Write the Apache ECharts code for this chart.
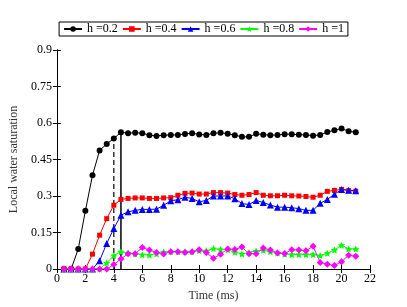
<!DOCTYPE html>
<html><head><meta charset="utf-8">
<script src="https://cdn.jsdelivr.net/npm/echarts@6/dist/echarts.min.js"></script>
<style>html,body{margin:0;padding:0;background:#fff}#c{width:407px;height:307px}</style>
</head><body><div id="c"></div>
<script>
var times = [0.5,1,1.5,2,2.5,3,3.5,4,4.5,5,5.5,6,6.5,7,7.5,8,8.5,9,9.5,10,10.5,11,11.5,12,12.5,13,13.5,14,14.5,15,15.5,16,16.5,17,17.5,18,18.5,19,19.5,20,20.5,21];
var h02 = [0,0,0.082,0.239,0.385,0.487,0.514,0.536,0.562,0.558,0.56,0.558,0.55,0.547,0.55,0.551,0.551,0.555,0.558,0.553,0.551,0.558,0.56,0.556,0.55,0.543,0.543,0.556,0.552,0.55,0.551,0.554,0.554,0.552,0.551,0.548,0.551,0.563,0.57,0.577,0.566,0.562];
var h04 = [0,0,0,0,0.061,0.139,0.207,0.262,0.286,0.29,0.292,0.292,0.29,0.29,0.292,0.293,0.303,0.311,0.312,0.308,0.308,0.314,0.314,0.312,0.306,0.303,0.306,0.314,0.303,0.301,0.301,0.303,0.301,0.30,0.298,0.295,0.303,0.319,0.323,0.327,0.322,0.32];
var h06 = [0,0,0,0,0,0.034,0.105,0.166,0.221,0.235,0.241,0.245,0.245,0.246,0.262,0.28,0.285,0.295,0.29,0.276,0.282,0.30,0.30,0.30,0.289,0.269,0.265,0.282,0.273,0.263,0.254,0.254,0.252,0.248,0.241,0.241,0.27,0.286,0.307,0.327,0.324,0.322];
var h08 = [0,0,0,0,0,0,0.025,0.055,0.071,0.066,0.062,0.059,0.058,0.062,0.07,0.071,0.071,0.072,0.071,0.075,0.075,0.084,0.08,0.079,0.069,0.062,0.068,0.074,0.077,0.071,0.066,0.061,0.06,0.06,0.06,0.06,0.055,0.065,0.078,0.098,0.082,0.082];
var h10 = [0,0,0,0,0,0,0,0.018,0.041,0.063,0.063,0.088,0.078,0.068,0.062,0.071,0.071,0.068,0.071,0.079,0.068,0.044,0.061,0.082,0.08,0.09,0.063,0.063,0.086,0.078,0.066,0.064,0.079,0.078,0.075,0.093,0.027,0.02,0.014,0.03,0.057,0.052];
var seriesNames = ['h =0.2','h =0.4','h =0.6','h =0.8','h =1'];
var dashedMark = [[4,0],[4,0.536]];
var solidMark = [[4.5,0],[4.5,0.562]];
var xTicks = {min:0,max:22,interval:2};
var yTicks = {min:0,max:0.9,interval:0.15};

var star = 'path://M0,-10L2.9,-4L9.5,-3.1L4.8,1.5L5.9,8.1L0,5L-5.9,8.1L-4.8,1.5L-9.5,-3.1L-2.9,-4Z';
var font = 'Liberation Serif';
function pairs(v){return times.map(function(t,i){return [t,v[i]];});}
function mk(name,data,color,symbol,size){
  return {name:name,type:'line',data:pairs(data),symbol:symbol,symbolSize:size,
    lineStyle:{color:color,width:1},itemStyle:{color:color},showSymbol:true,animation:false,z:3};
}
var chart = echarts.init(document.getElementById('c'),null,{renderer:'canvas'});
var axisCommon = {axisLine:{show:true,lineStyle:{color:'#000',width:1}},
  axisTick:{show:true,inside:true,length:4,lineStyle:{color:'#000'}},
  splitLine:{show:false}};
chart.setOption({
  backgroundColor:'#fff',
  animation:false,
  grid:{left:51,right:37,top:50,bottom:37,containLabel:false},
  legend:{data:seriesNames,top:22,left:'center',orient:'horizontal',
    borderColor:'#000',borderWidth:1,padding:[1,4,1,4],itemGap:4,itemWidth:18,itemHeight:7,
    textStyle:{fontFamily:font,fontSize:12,color:'#000'}},
  xAxis:[
    Object.assign({type:'value',min:xTicks.min,max:xTicks.max,interval:xTicks.interval,position:'bottom',
      name:'Time (ms)',nameLocation:'middle',nameGap:21,
      nameTextStyle:{fontFamily:font,fontSize:12,color:'#333'},
      axisLabel:{fontFamily:font,fontSize:12,color:'#000',margin:4}},axisCommon),
    Object.assign({type:'value',min:xTicks.min,max:xTicks.max,interval:xTicks.interval,position:'top',
      axisLabel:{show:false}},axisCommon)
  ],
  yAxis:[
    Object.assign({type:'value',min:yTicks.min,max:yTicks.max,interval:yTicks.interval,position:'left',
      name:'Local water saturation',nameLocation:'middle',nameGap:30,
      nameTextStyle:{fontFamily:font,fontSize:12,color:'#333'},
      axisLabel:{fontFamily:font,fontSize:12,color:'#000',margin:5}},axisCommon),
    Object.assign({type:'value',min:yTicks.min,max:yTicks.max,interval:yTicks.interval,position:'right',
      axisLabel:{show:false}},axisCommon)
  ],
  series:[
    mk(seriesNames[0],h02,'#000000','circle',6),
    mk(seriesNames[1],h04,'#ff0000','rect',5),
    mk(seriesNames[2],h06,'#0000ff','triangle',7),
    mk(seriesNames[3],h08,'#00ff00',star,7),
    mk(seriesNames[4],h10,'#ff00ff','diamond',7),
    {type:'line',data:dashedMark,symbol:'none',lineStyle:{color:'#000',width:1.2,type:[5,3]},z:2,animation:false},
    {type:'line',data:solidMark,symbol:'none',lineStyle:{color:'#000',width:1.5},z:2,animation:false}
  ]
});
</script></body></html>
